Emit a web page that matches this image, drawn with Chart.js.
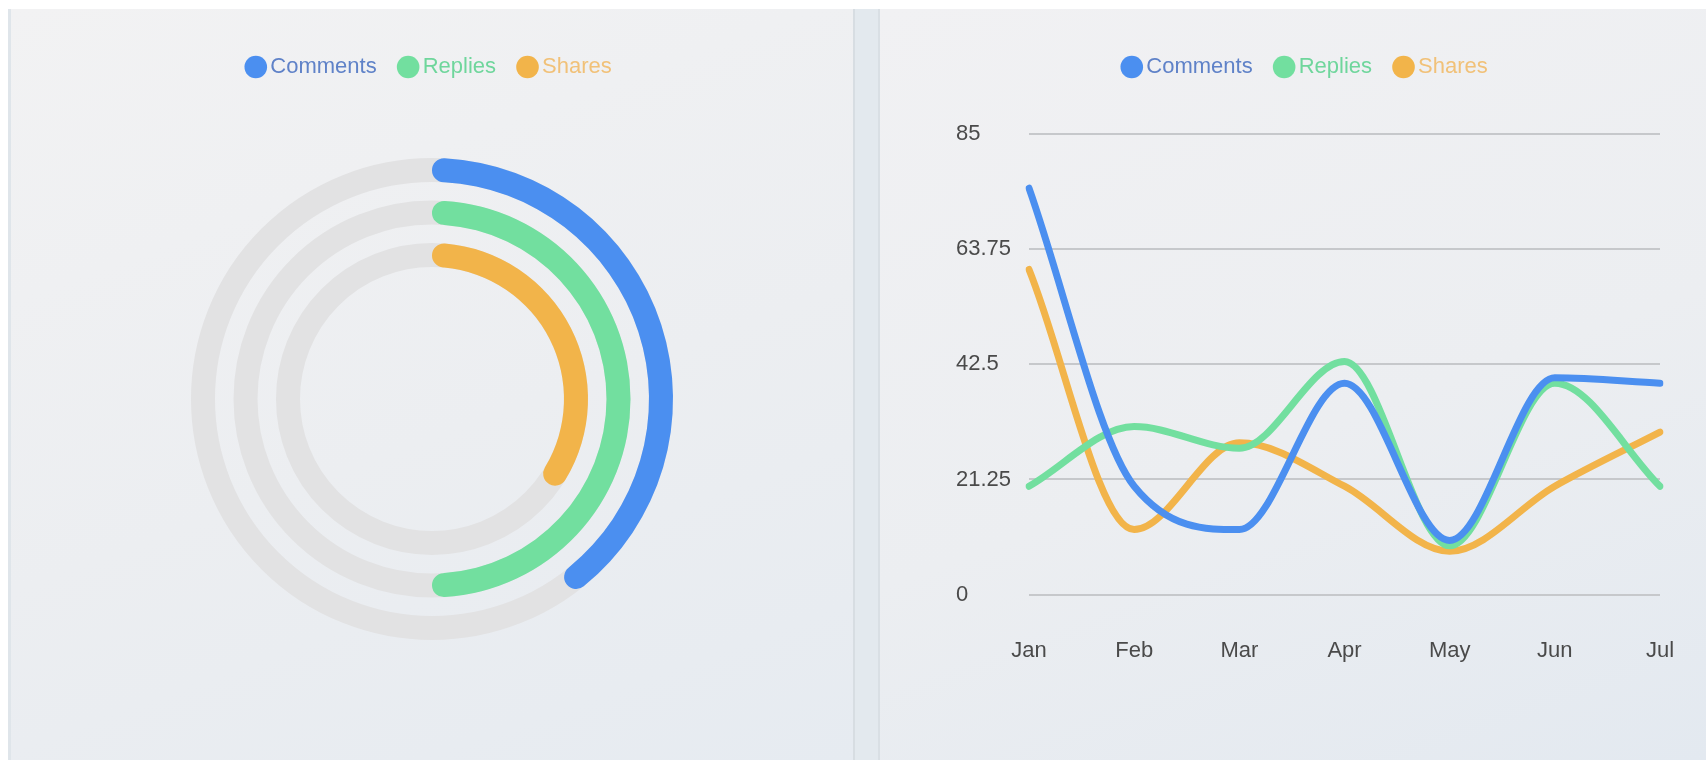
<!DOCTYPE html>
<html>
<head>
<meta charset="utf-8">
<script src="https://cdn.jsdelivr.net/npm/chart.js@4.4.1/dist/chart.umd.min.js"></script>
<style>
  html, body { margin: 0; padding: 0; background: #fff; }
  body { width: 1706px; height: 760px; position: relative; overflow: hidden; }
  .panel { position: absolute; top: 9px; height: 751px; }
  #left { left: 8px; width: 845px; border-left: 3px solid #dfe5ea; box-sizing: border-box;
    background: linear-gradient(160deg, #f2f2f3 0%, #eceef1 55%, #e6ebf1 100%); }
  #gap { left: 853px; width: 27px; background: #e3e9ee; border-left: 2px solid #d7dde2; border-right: 2px solid #d9dfe4; box-sizing: border-box; }
  #right { left: 880px; width: 826px;
    background: linear-gradient(160deg, #f1f1f3 0%, #eceef1 55%, #e3e9f0 100%); }
  .box { position: absolute; top: 0; left: 0; width: 100%; height: 100%; }
</style>
</head>
<body>
<div id="left" class="panel"><div class="box"><canvas id="rings"></canvas></div></div>
<div id="gap" class="panel"></div>
<div id="right" class="panel"><div class="box"><canvas id="trend"></canvas></div></div>
<script>
const seriesNames = ['Comments', 'Replies', 'Shares'];
const seriesColors = ['#4b8ff0', '#72df9f', '#f2b44a'];
const legendText = ['#5f82c8', '#6fd69c', '#f1c178'];

// ring chart, percent of a full turn
const ringValues = [40, 50, 35];

// trend chart
const months = ['Jan', 'Feb', 'Mar', 'Apr', 'May', 'Jun', 'Jul'];
const comments = [75, 20, 12, 39, 10, 40, 39];
const replies = [20, 31, 27, 43, 9, 39, 20];
const shares = [60, 12, 28, 20, 8, 20, 30];
const yTicks = [0, 21.25, 42.5, 63.75, 85];

Chart.defaults.font.family = "'Liberation Sans', Arial, sans-serif";
Chart.defaults.font.size = 22;
Chart.defaults.animation = false;

const legendGap = {
  id: 'legendGap',
  beforeInit(chart, args, opts) {
    const fit = chart.legend.fit;
    chart.legend.fit = function () {
      fit.call(this);
      this.height += opts.gap || 0;
    };
  }
};

function legendItems(chart) {
  return chart.data.datasets
    .map((ds, i) => ({ ds, i }))
    .filter(o => !o.ds.spacer)
    .map((o, k) => ({
      text: o.ds.label,
      fillStyle: seriesColors[k],
      strokeStyle: 'rgba(0,0,0,0)',
      lineWidth: 0,
      pointStyle: 'circle',
      fontColor: legendText[k],
      hidden: false,
      datasetIndex: o.i
    }));
}

const legendOpts = {
  display: true,
  position: 'top',
  labels: {
    usePointStyle: true,
    boxWidth: 7,
    boxHeight: 16,
    padding: 28,
    font: { size: 22 },
    generateLabels: legendItems
  }
};

// grey tracks under every ring
const ringTrack = {
  id: 'ringTrack',
  beforeDatasetsDraw(chart) {
    const ctx = chart.ctx;
    chart.data.datasets.forEach((ds, i) => {
      if (ds.spacer) return;
      const arc = chart.getDatasetMeta(i).data[0];
      ctx.save();
      ctx.beginPath();
      ctx.lineWidth = arc.outerRadius - arc.innerRadius;
      ctx.strokeStyle = '#e2e2e3';
      ctx.arc(arc.x, arc.y, (arc.outerRadius + arc.innerRadius) / 2, 0, Math.PI * 2);
      ctx.stroke();
      ctx.restore();
    });
  }
};

const ringSets = [];
ringValues.forEach((v, i) => {
  ringSets.push({
    label: seriesNames[i],
    data: [v, 100 - v],
    backgroundColor: [seriesColors[i], 'rgba(0,0,0,0)'],
    borderWidth: 0,
    weight: 24,
    borderRadius: ctx => ctx.dataIndex === 0 ? 12 : 0
  });
  if (i < ringValues.length - 1) {
    ringSets.push({ spacer: true, data: [100], backgroundColor: 'rgba(0,0,0,0)', borderWidth: 0, weight: 18.5 });
  }
});

new Chart(document.getElementById('rings'), {
  type: 'doughnut',
  data: { labels: ['value', 'rest'], datasets: ringSets },
  options: {
    responsive: true,
    maintainAspectRatio: false,
    cutout: 132,
    events: [],
    layout: { padding: { top: 19, bottom: 120 } },
    plugins: {
      legend: legendOpts,
      legendGap: { gap: 70 },
      tooltip: { enabled: false }
    }
  },
  plugins: [legendGap, ringTrack]
});

const lineSet = (label, data, color) => ({
  label: label,
  data: data,
  borderColor: color,
  backgroundColor: color,
  borderWidth: 7,
  borderCapStyle: 'round',
  cubicInterpolationMode: 'monotone',
  pointRadius: 0,
  fill: false
});

new Chart(document.getElementById('trend'), {
  type: 'line',
  data: {
    labels: months,
    datasets: [
      lineSet(seriesNames[0], comments, seriesColors[0]),
      lineSet(seriesNames[1], replies, seriesColors[1]),
      lineSet(seriesNames[2], shares, seriesColors[2])
    ]
  },
  options: {
    responsive: true,
    maintainAspectRatio: false,
    events: [],
    layout: { padding: { left: 76, right: 46, top: 19, bottom: 96 } },
    scales: {
      x: {
        grid: { display: false, drawTicks: true, tickLength: 43 },
        border: { display: false },
        ticks: { color: '#4a4a4a', padding: 0, maxRotation: 0 }
      },
      y: {
        min: 0,
        max: 85,
        afterBuildTicks: s => { s.ticks = yTicks.map(v => ({ value: v })); },
        afterFit: s => { s.width = 73; },
        grid: { color: '#c6c8cb', lineWidth: 2, drawTicks: false },
        border: { display: false },
        ticks: { color: '#4a4a4a', crossAlign: 'far', padding: 0, callback: v => String(v) }
      }
    },
    plugins: {
      legend: legendOpts,
      legendGap: { gap: 46 },
      tooltip: { enabled: false }
    }
  },
  plugins: [legendGap]
});
</script>
</body>
</html>
